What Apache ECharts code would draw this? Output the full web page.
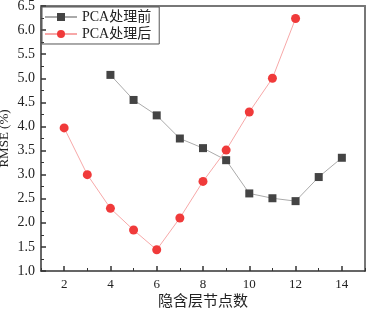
<!DOCTYPE html>
<html><head><meta charset="utf-8">
<script src="https://cdn.jsdelivr.net/npm/echarts@6/dist/echarts.min.js"></script>
<style>html,body{margin:0;padding:0;background:#fff}#c{width:368px;height:309px}</style>
</head><body><div id="c"></div>
<script>
var beforeX = [4,5,6,7,8,9,10,11,12,13,14];
var beforeY = [5.07,4.55,4.23,3.75,3.55,3.30,2.61,2.51,2.45,2.95,3.35];
var afterX = [2,3,4,5,6,7,8,9,10,11,12];
var afterY = [3.97,3.00,2.30,1.85,1.44,2.10,2.86,3.51,4.30,5.00,6.24];
var xMajor = [2,4,6,8,10,12,14];
var xMinor = [1,3,5,7,9,11,13,15];
var names = ['PCA处理前','PCA处理后'];
var FONT = "'Liberation Serif','Noto Sans CJK SC',serif";

function pairs(xs, ys){ return xs.map(function(x,i){return [x, ys[i]];}); }

var chart = echarts.init(document.getElementById('c'));
chart.setOption({
  animation:false,
  grid:{left:41,right:3,top:6,bottom:38,containLabel:false,outerBoundsMode:'none'},
  legend:{
    left:42, top:7, orient:'vertical', itemGap:3,
    borderColor:'#555', borderWidth:1, padding:[3,8,3,2],
    itemWidth:32, itemHeight:10,
    textStyle:{fontFamily:FONT, fontSize:14, color:'#222'},
    data:names
  },
  xAxis:[{
    type:'value', min:1, max:15, position:'bottom',
    name:'隐含层节点数', nameLocation:'middle', nameGap:24, nameMoveOverlap:false,
    nameTextStyle:{fontFamily:FONT, fontSize:15, color:'#222'},
    axisLine:{show:true, onZero:false, lineStyle:{color:'#333', width:1.5}},
    axisTick:{show:true, inside:true, length:5, customValues:xMajor, lineStyle:{color:'#333', width:1.5}},
    axisLabel:{customValues:xMajor, fontFamily:FONT, fontSize:13, color:'#222', margin:7},
    splitLine:{show:false}
  },{
    type:'value', min:1, max:15, position:'top',
    axisLine:{show:true, onZero:false, lineStyle:{color:'#777', width:2}},
    axisTick:{show:false}, axisLabel:{show:false}, splitLine:{show:false}
  },{
    type:'value', min:1, max:15, position:'bottom',
    axisLine:{show:false},
    axisTick:{show:true, inside:true, length:3, customValues:xMinor, lineStyle:{color:'#333', width:1}},
    axisLabel:{show:false}, splitLine:{show:false}
  }],
  yAxis:[{
    type:'value', min:1, max:6.5, interval:0.5, position:'left',
    name:'RMSE (%)', nameLocation:'middle', nameGap:30, nameRotate:90, nameMoveOverlap:false,
    nameTextStyle:{fontFamily:FONT, fontSize:13, color:'#222'},
    axisLine:{show:true, onZero:false, lineStyle:{color:'#333', width:1.5}},
    axisTick:{show:true, inside:true, length:5, lineStyle:{color:'#333', width:1.5}},
    minorTick:{show:true, splitNumber:2, length:3, lineStyle:{color:'#333'}},
    axisLabel:{fontFamily:FONT, fontSize:14, color:'#222', margin:6,
      formatter:function(v){return v.toFixed(1);}},
    splitLine:{show:false}
  },{
    type:'value', min:1, max:6.5, position:'right',
    axisLine:{show:true, onZero:false, lineStyle:{color:'#777', width:2}},
    axisTick:{show:false}, axisLabel:{show:false}, splitLine:{show:false}
  }],
  series:[{
    name:names[0], type:'line', data:pairs(beforeX, beforeY),
    symbol:'rect', symbolSize:8,
    lineStyle:{color:'#aaaaaa', width:1},
    itemStyle:{color:'#444444'}
  },{
    name:names[1], type:'line', data:pairs(afterX, afterY),
    symbol:'circle', symbolSize:9,
    lineStyle:{color:'#f7a8a8', width:1},
    itemStyle:{color:'#f03a3a'}
  }]
});
</script></body></html>
